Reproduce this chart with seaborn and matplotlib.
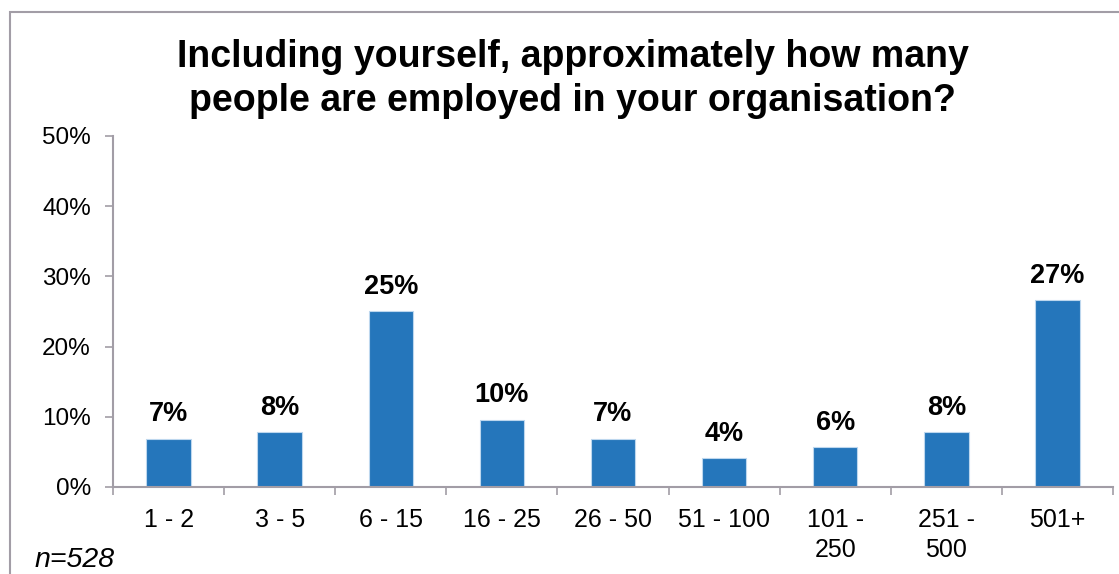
import matplotlib
matplotlib.use("Agg")
import matplotlib.pyplot as plt
from matplotlib.patches import Rectangle
from matplotlib.ticker import FixedLocator, FuncFormatter, NullFormatter
import seaborn as sns
import pandas as pd

# Survey responses: share of respondents by organisation size
categories = ["1 - 2", "3 - 5", "6 - 15", "16 - 25", "26 - 50",
              "51 - 100", "101 -\n250", "251 -\n500", "501+"]
shares = [6.9, 7.8, 25.1, 9.6, 6.9, 4.1, 5.7, 7.8, 26.6]
y_ticks = [0, 10, 20, 30, 40, 50]
title_text = "Including yourself, approximately how many\npeople are employed in your organisation?"
sample_note = "n=528"

df = pd.DataFrame({"size": categories, "share": shares})

sns.set_theme(style="white")
plt.rcParams["font.family"] = ["Liberation Sans", "DejaVu Sans"]

axis_grey = "#A29DA6"
bar_blue = "#2576BB"

fig = plt.figure(figsize=(11.19, 5.74), dpi=100)
ax = fig.add_axes([0.101, 0.1516, 0.8936, 0.6115])

sns.barplot(data=df, x="size", y="share", color=bar_blue, width=0.4,
            edgecolor="#BDD7EE", linewidth=0.8, saturation=1, ax=ax)

for i, v in enumerate(shares):
    ax.text(i, v + 1.6, f"{v:.0f}%", ha="center", va="bottom",
            fontsize=19.5, fontweight="bold", color="black")

ax.set_ylim(0, 50)
ax.set_xlim(-0.5, len(categories) - 0.5)
ax.yaxis.set_major_locator(FixedLocator(y_ticks))
ax.yaxis.set_major_formatter(FuncFormatter(lambda v, _: f"{v:.0f}%"))
ax.tick_params(axis="y", which="major", length=6, width=1.2, color=axis_grey,
               direction="out", left=True, pad=10, labelsize=17.5, labelcolor="black")

# category labels centred, tick marks between categories
ax.tick_params(axis="x", which="major", length=0, pad=15, labelsize=18,
               labelcolor="black")
ax.xaxis.set_minor_locator(FixedLocator([k - 0.5 for k in range(len(categories) + 1)]))
ax.xaxis.set_minor_formatter(NullFormatter())
ax.tick_params(axis="x", which="minor", length=6, width=1.2, color=axis_grey,
               direction="out", bottom=True)
for lbl in ax.get_xticklabels():
    lbl.set_linespacing(1.3)

ax.set_xlabel("")
ax.set_ylabel("")
for side in ["top", "right"]:
    ax.spines[side].set_visible(False)
for side in ["left", "bottom"]:
    ax.spines[side].set_color(axis_grey)
    ax.spines[side].set_linewidth(1.5)

fig.text(0.512, 0.862, title_text, ha="center", va="center", fontsize=27,
         fontweight="bold", color="black", linespacing=1.3)
fig.text(0.031, 0.024, sample_note, ha="left", va="center", fontsize=20.5,
         style="italic", color="black")

# outer frame of the chart area
fig.patches.append(Rectangle((10 / 1119, -0.05), 1.2, 1 - 12 / 574 + 0.05,
                             transform=fig.transFigure, fill=False,
                             edgecolor=axis_grey, linewidth=1.5))

fig.savefig("out.png", dpi=100)
